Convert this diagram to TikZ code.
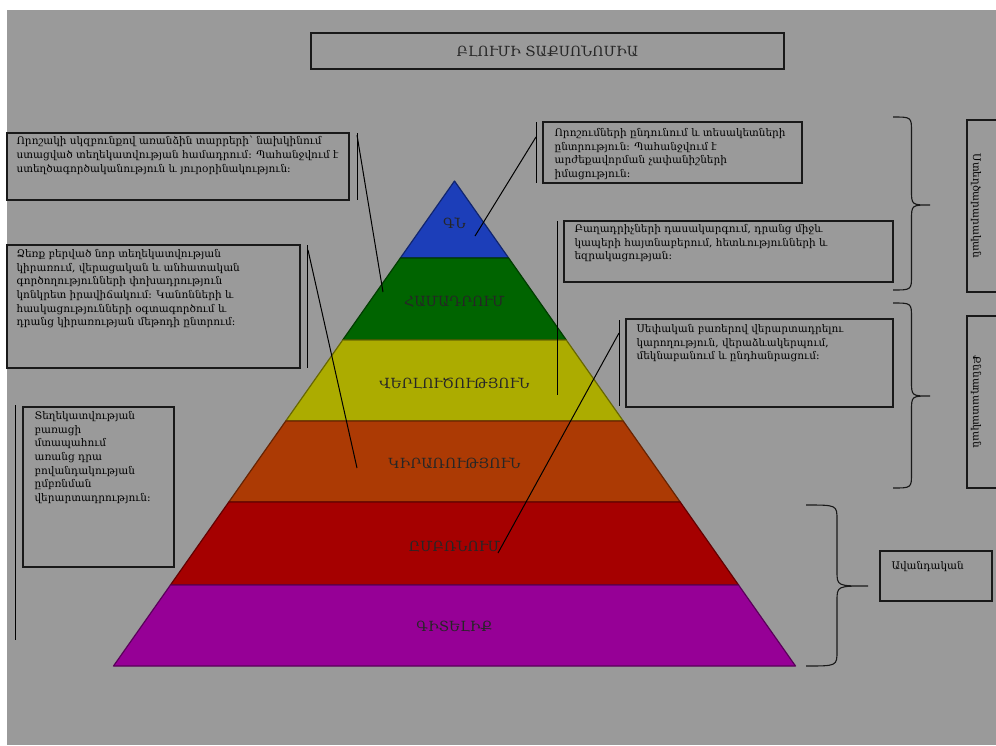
\documentclass[tikz,border=0pt]{standalone}
\usepackage{fontspec}
\setmainfont{DejaVu Serif}
\usetikzlibrary{positioning}
\definecolor{bggray}{RGB}{154,154,154}
\definecolor{lvlblue}{RGB}{28,62,185}
\definecolor{lvlgreen}{RGB}{0,100,0}
\definecolor{lvlyellow}{RGB}{172,172,0}
\definecolor{lvlorange}{RGB}{172,58,4}
\definecolor{lvlred}{RGB}{165,0,0}
\definecolor{lvlpurple}{RGB}{150,0,150}
% curly brace: x, top, tip, bottom, width
\newcommand{\wbrace}[5]{%
  \pgfmathsetmacro\bxm{#1+#5/2}
  \pgfmathsetmacro\bxt{#1+#5}
  \draw[line width=1.1pt,black!90] (#1,#2) .. controls (\bxm,#2) .. (\bxm,#2+15) -- (\bxm,#3-15)
    .. controls (\bxm,#3) .. (\bxt,#3) .. controls (\bxm,#3) .. (\bxm,#3+15) -- (\bxm,#4-15)
    .. controls (\bxm,#4) .. (#1,#4);
}

\begin{document}
\begin{tikzpicture}[x=1pt,y=-1pt]
  \tikzstyle{box}=[draw=black!90,line width=1.2pt,inner sep=0pt]
  \tikzstyle{note}=[font=\fontsize{10.5}{13.6}\selectfont,align=left,inner sep=0pt,text=black]
  \tikzstyle{lvl}=[font=\fontsize{14}{16}\selectfont,text=black!85]
  \tikzstyle{link}=[black,line width=1pt]

  \useasboundingbox (0,0) rectangle (996,745);
  \fill[white] (0,0) rectangle (996,745);
  \fill[bggray] (7,10) rectangle (996,745);

  % pyramid layers
  \foreach \ya/\yb/\col in {181/258/lvlblue, 258/340/lvlgreen, 340/421/lvlyellow,
                            421/502/lvlorange, 502/585/lvlred, 585/666/lvlpurple}{
    \pgfmathsetmacro\la{454.5-0.7031*(\ya-181)}
    \pgfmathsetmacro\ra{454.5+0.7031*(\ya-181)}
    \pgfmathsetmacro\lb{454.5-0.7031*(\yb-181)}
    \pgfmathsetmacro\rb{454.5+0.7031*(\yb-181)}
    \filldraw[fill=\col,draw=\col!60!black,line width=1.2pt,line join=round]
      (\la,\ya) -- (\ra,\ya) -- (\rb,\yb) -- (\lb,\yb) -- cycle;
  }

  \node[lvl] (evallvl) at (454.5,223) {ԳՆ};
  \node[lvl] (synlvl) at (454.5,302) {ՀԱՄԱԴՐՈՒՄ};
  \node[lvl] (analvl) at (454.5,383) {ՎԵՐԼՈՒԾՈՒԹՅՈՒՆ};
  \node[lvl] (applvl) at (454.5,463) {ԿԻՐԱՌՈՒԹՅՈՒՆ};
  \node[lvl] (complvl) at (454.5,546) {ԸՄԲՌՆՈՒՄ};
  \node[lvl] (knowlvl) at (454.5,627) {ԳԻՏԵԼԻՔ};

  % title
  \node[box,minimum width=473pt,minimum height=36pt] (title) at (547.5,51) {};
  \node[lvl] (titletext) at (title) {ԲԼՈՒՄԻ ՏԱՔՍՈՆՈՄԻԱ};

  % description boxes
  \node[box,minimum width=342pt,minimum height=67pt] (synbox) at (178,166.5) {};
  \node[note,below right=4pt and 10pt of synbox.north west,anchor=north west] (syntext)
    {Որոշակի սկզբունքով առանձին տարրերի՝ նախկինում\\
     ստացված տեղեկատվության համադրում: Պահանջվում է\\
     ստեղծագործականություն և յուրօրինակություն:};

  \node[box,minimum width=293pt,minimum height=123pt] (appbox) at (153.5,306.5) {};
  \node[note,below right=5pt and 10pt of appbox.north west,anchor=north west] (apptext)
    {Ձեռք բերված նոր տեղեկատվության\\
     կիրառում, վերացական և անհատական\\
     գործողությունների փոխադրություն\\
     կոնկրետ իրավիճակում: Կանոնների և\\
     հասկացությունների օգտագործում և\\
     դրանց կիրառության մեթոդի ընտրում:};

  \node[box,minimum width=259pt,minimum height=61pt] (evalbox) at (672.5,152.5) {};
  \node[note,below right=7pt and 12pt of evalbox.north west,anchor=north west] (evaltext)
    {Որոշումների ընդունում և տեսակետների\\
     ընտրություն: Պահանջվում է\\
     արժեքավորման չափանիշների\\
     իմացություն:};

  \node[box,minimum width=329pt,minimum height=61pt] (anabox) at (728.5,251.5) {};
  \node[note,below right=4pt and 11pt of anabox.north west,anchor=north west] (anatext)
    {Բաղադրիչների դասակարգում, դրանց միջև\\
     կապերի հայտնաբերում, հետևությունների և\\
     եզրակացության:};

  \node[box,minimum width=267pt,minimum height=88pt] (compbox) at (759.5,363) {};
  \node[note,below right=6pt and 11pt of compbox.north west,anchor=north west] (comptext)
    {Սեփական բառերով վերարտադրելու\\
     կարողություն, վերաձևակերպում,\\
     մեկնաբանում և ընդհանրացում:};

  \node[box,minimum width=151pt,minimum height=160pt] (knowbox) at (98.5,487) {};
  \node[note,below right=5pt and 12pt of knowbox.north west,anchor=north west] (knowtext)
    {Տեղեկատվության\\
     բառացի\\
     մտապահում\\
     առանց դրա\\
     բովանդակության\\
     ըմբռնման\\
     վերարտադրություն:};

  % thinking kinds
  \node[box,minimum width=36pt,minimum height=172pt] (crebox) at (985,206) {};
  \node[note,rotate=-90] (cretext) at (976,206) {Ստեղծարարական};
  \node[box,minimum width=36pt,minimum height=172pt] (critbox) at (985,402) {};
  \node[note,rotate=-90] (crittext) at (976,402) {Քննադատական};
  \node[box,minimum width=112pt,minimum height=50pt] (tradbox) at (936,576) {};
  \node[note,below right=11pt and 12pt of tradbox.north west,anchor=north west] (tradtext) {Ավանդական};

  \wbrace{893}{117}{205}{290}{37}
  \wbrace{893}{303}{396}{488}{37}
  \wbrace{806}{505}{586}{666}{62}

  % connectors
  \coordinate (syntop) at (357,133);
  \coordinate (synbot) at (357,200);
  \coordinate (synstart) at (357,135);
  \coordinate (synend) at (383,292);
  \draw[link] (syntop) -- (synbot);
  \draw[link] (synstart) -- (synend);

  \coordinate (apptop) at (307,245);
  \coordinate (appbot) at (307,368);
  \coordinate (appstart) at (308,250);
  \coordinate (append) at (357,468);
  \draw[link] (apptop) -- (appbot);
  \draw[link] (appstart) -- (append);

  \coordinate (evaltop) at (536,122);
  \coordinate (evalbot) at (536,183);
  \coordinate (evalstart) at (536,137);
  \coordinate (evalend) at (475,236);
  \draw[link] (evaltop) -- (evalbot);
  \draw[link] (evalstart) -- (evalend);

  \coordinate (anatop) at (557,221);
  \coordinate (anaend) at (557,395);
  \draw[link] (anatop) -- (anaend);

  \coordinate (comptop) at (619,320);
  \coordinate (compbot) at (619,406);
  \coordinate (compstart) at (619,333);
  \coordinate (compend) at (498,553);
  \draw[link] (comptop) -- (compbot);
  \draw[link] (compstart) -- (compend);

  \coordinate (knowtop) at (15,405);
  \coordinate (knowbot) at (15,640);
  \draw[link] (knowtop) -- (knowbot);
\end{tikzpicture}
\end{document}
